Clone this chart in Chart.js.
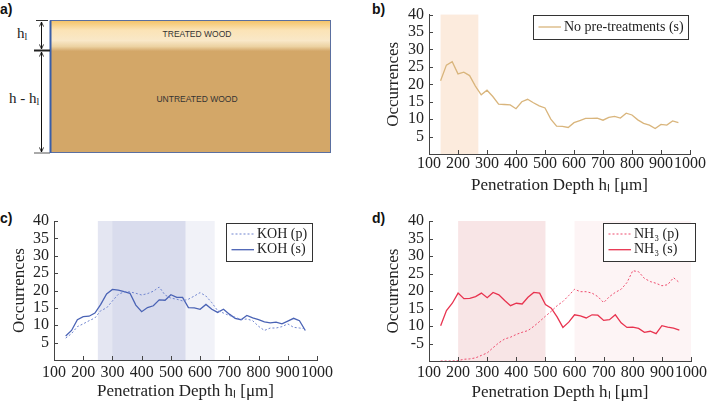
<!DOCTYPE html>
<html>
<head>
<meta charset="utf-8">
<script src="https://cdn.jsdelivr.net/npm/chart.js@4.4.0/dist/chart.umd.min.js"></script>
<style>
  body { margin: 0; background: #fff; width: 709px; height: 403px; position: relative; overflow: hidden; }
  .panel { position: absolute; }
  .tag { position: absolute; font: bold 14px "Liberation Sans", Arial, sans-serif; color: #111; line-height: 14px; }
</style>
</head>
<body>

<div class="tag" style="left:0;top:2px">a)</div>
<div class="tag" style="left:372px;top:2px">b)</div>
<div class="tag" style="left:0;top:211px">c)</div>
<div class="tag" style="left:372px;top:211px">d)</div>

<!-- a) schematic -->
<svg class="panel" style="left:0;top:0" width="355" height="170">
  <defs>
    <linearGradient id="treated" x1="0" y1="0" x2="0" y2="1">
      <stop offset="0" stop-color="#f6c46a"/>
      <stop offset="0.3" stop-color="#fbe3b6"/>
      <stop offset="0.65" stop-color="#f9e8c8"/>
      <stop offset="0.85" stop-color="#ecd2a2"/>
      <stop offset="1" stop-color="#d4a86a"/>
    </linearGradient>
    <marker id="arr" viewBox="0 0 6 6" refX="5.5" refY="3" markerWidth="5" markerHeight="5" orient="auto-start-reverse">
      <path d="M0,0.5 L5.5,3 L0,5.5" fill="none" stroke="#111" stroke-width="1"/>
    </marker>
  </defs>
  <rect x="50" y="21" width="281" height="132" fill="#d3a768"/>
  <rect x="50" y="21" width="281" height="30" fill="url(#treated)"/>
  <rect x="50.5" y="20.5" width="280" height="132" fill="none" stroke="#5a6fa0" stroke-width="1"/>
  <line x1="50.5" y1="20.5" x2="50.5" y2="153" stroke="#3a5fa8" stroke-width="2"/>
  <line x1="41.5" y1="22" x2="41.5" y2="49" stroke="#111" marker-start="url(#arr)" marker-end="url(#arr)"/>
  <line x1="41.5" y1="52" x2="41.5" y2="152" stroke="#111" marker-start="url(#arr)" marker-end="url(#arr)"/>
  <line x1="36" y1="20.5" x2="48" y2="20.5" stroke="#333"/>
  <line x1="34" y1="50.5" x2="50" y2="50.5" stroke="#222" stroke-width="2"/>
  <line x1="34" y1="153" x2="50" y2="153" stroke="#555"/>
  <text x="17" y="38" font-family="Liberation Serif" font-size="15" fill="#222">h<tspan font-size="10" dy="2">l</tspan></text>
  <text x="9" y="103" font-family="Liberation Serif" font-size="15" fill="#222">h - h<tspan font-size="10" dy="2">l</tspan></text>
  <text x="197" y="37" text-anchor="middle" font-family="Liberation Sans" font-size="8.5" fill="#333">TREATED WOOD</text>
  <text x="197" y="102" text-anchor="middle" font-family="Liberation Sans" font-size="8.5" fill="#333">UNTREATED WOOD</text>
</svg>

<canvas id="chartB" class="panel" style="left:360px;top:0" width="349" height="200"></canvas>
<canvas id="chartC" class="panel" style="left:0;top:200px" width="355" height="203"></canvas>
<canvas id="chartD" class="panel" style="left:355px;top:200px" width="354" height="203"></canvas>

<script>
// penetration depth bins (µm)
const depth = [140, 160, 180, 200, 220, 240, 260, 280, 300, 320,
               340, 360, 380, 400, 420, 440, 460, 480, 500, 520,
               540, 560, 580, 600, 620, 640, 660, 680, 700, 720,
               740, 760, 780, 800, 820, 840, 860, 880, 900, 920,
               940, 960];

const noPretreat = [21, 25.5, 26.5, 23, 23.5, 22.5, 19.5, 17, 18.3, 16.5,
                    14.3, 14.2, 14.1, 13, 15, 15.7, 14.7, 13.8, 13.2, 10,
                    8, 7.9, 7.6, 9, 9.6, 10.2, 10.2, 10.3, 9.7, 10.5,
                    10.8, 10.3, 11.7, 11.2, 9.8, 8.8, 8.3, 7.3, 8.5, 8.3,
                    9.5, 9];

const kohP = [6.3, 7.6, 9.6, 10.4, 11.3, 12.1, 14.2, 15, 17, 18.9,
              19.6, 19.6, 19.2, 18.7, 19.1, 19.8, 21, 18.7, 17.8, 17.5,
              17, 17.5, 18.4, 19.4, 18.4, 16.5, 14.2, 13.5, 12.8, 12.3,
              11.6, 11.8, 11.3, 9.7, 8.5, 9.2, 9.2, 9.6, 10.4, 9.4,
              9.2, 9];

const kohS = [6.9, 8.5, 11.6, 12.5, 12.6, 13.5, 16, 19, 20.3, 20.1,
              19.7, 19.2, 15.8, 13.9, 15.1, 15.6, 17.3, 17.2, 18.8, 18,
              18, 15.1, 15, 14.6, 16, 14.6, 13.7, 14.6, 13.2, 12,
              11.6, 12.8, 12.1, 11.6, 11, 10.7, 10.9, 10.4, 11.2, 12,
              11.3, 8.5];

const nh3P = [0, 0, 0, 0.1, 0.5, 0.6, 0.9, 1.6, 2.3, 3.8,
              5.2, 6.3, 6.8, 7.6, 8.2, 8.7, 9.9, 11.3, 12.8, 14.2,
              15.8, 17, 18.7, 20.5, 19.8, 19.8, 19.4, 18.4, 16.7, 18.4,
              19.6, 20.5, 22.4, 25.8, 25.5, 23.6, 22.7, 22.2, 21.5, 21.8,
              23.8, 22.4];

const nh3S = [10.1, 14.4, 16.5, 19.4, 17.8, 17.9, 18.4, 19.4, 18.1, 19.6,
              18.9, 17.3, 15.8, 16.5, 16.3, 18.2, 19.6, 19.4, 16.1, 15.1,
              12.6, 9.6, 11.1, 13.2, 12.9, 12.3, 13.2, 13.1, 11.6, 11.8,
              13.2, 10.9, 9.6, 9.7, 9.3, 8.2, 8.5, 7.8, 10.1, 9.7,
              9.4, 8.8];

// shaded depth ranges
const bandsB = [[140, 270]];
const bandsC = [[250, 550], [300, 650]];
const bandsD = [[200, 500], [600, 1000]];

// tick labels (x ticks at 100..1000, y ticks at 0, 5, ..., 40)
const xLabels = ['100', '200', '300', '400', '500', '600', '700', '800', '900', '1000'];
const yLabels = ['', '5', '10', '15', '20', '25', '30', '35', '40'];
const yLabelsD = ['', '-5', '10', '15', '20', '25', '30', '35', '40'];

const serif = '"Liberation Serif", "Times New Roman", serif';
Chart.defaults.font.family = serif;
Chart.defaults.color = '#222';

const bandPlugin = {
  id: 'bands',
  beforeDatasetsDraw(chart, args, opts) {
    const { ctx, chartArea, scales: { x, y } } = chart;
    opts.ranges.forEach((r, i) => {
      const x0 = x.getPixelForValue(r[0]);
      const x1 = x.getPixelForValue(r[1]);
      const top = y.getPixelForValue(40);
      ctx.save();
      ctx.fillStyle = opts.colors[i];
      ctx.fillRect(x0, top, x1 - x0, chartArea.bottom - top);
      ctx.restore();
    });
  }
};

// small tick marks pointing into the plot
const innerTicks = {
  id: 'innerTicks',
  afterDatasetsDraw(chart) {
    const { ctx, chartArea: a, scales: { x, y } } = chart;
    ctx.save();
    ctx.strokeStyle = '#444';
    ctx.lineWidth = 1;
    ctx.beginPath();
    x.ticks.forEach(t => {
      const p = Math.round(x.getPixelForValue(t.value)) + 0.5;
      ctx.moveTo(p, a.bottom);
      ctx.lineTo(p, a.bottom - 4);
    });
    y.ticks.forEach(t => {
      if (t.value <= 0) return;
      const p = Math.round(y.getPixelForValue(t.value)) + 0.5;
      ctx.moveTo(a.left, p);
      ctx.lineTo(a.left + 4, p);
    });
    ctx.stroke();
    ctx.restore();
  }
};

// legend with a framed box
const boxLegend = {
  id: 'boxLegend',
  afterDraw(chart, args, o) {
    const ctx = chart.ctx;
    ctx.save();
    ctx.fillStyle = '#fff';
    ctx.fillRect(o.x, o.y, o.w, o.h);
    ctx.strokeStyle = '#333';
    ctx.lineWidth = 1;
    ctx.strokeRect(o.x + 0.5, o.y + 0.5, o.w, o.h);
    ctx.font = '14px ' + serif;
    ctx.textBaseline = 'middle';
    chart.data.datasets.forEach((ds, i) => {
      const yy = o.y + o.first + i * o.step;
      ctx.strokeStyle = ds.borderColor;
      ctx.lineWidth = ds.borderWidth;
      ctx.setLineDash(ds.borderDash || []);
      ctx.beginPath();
      ctx.moveTo(o.x + 5.5, yy);
      ctx.lineTo(o.x + 28, yy);
      ctx.stroke();
      ctx.setLineDash([]);
      ctx.fillStyle = '#222';
      ctx.fillText(ds.label, o.x + 31, yy);
    });
    ctx.restore();
  }
};

function series(vals) {
  return depth.map((d, i) => ({ x: d, y: vals[i] }));
}

function line(label, vals, color, dashed) {
  return {
    label: label,
    data: series(vals),
    borderColor: color,
    borderWidth: dashed ? 1 : 1.3,
    borderDash: dashed ? [2, 2] : [],
    pointRadius: 0,
    tension: 0,
    fill: false
  };
}

function makePanel(id, datasets, p) {
  return new Chart(document.getElementById(id), {
    type: 'line',
    data: { datasets: datasets },
    options: {
      responsive: false,
      animation: false,
      layout: { padding: { top: p.top, right: p.right, left: 0, bottom: 0 } },
      plugins: {
        legend: { display: false },
        tooltip: { enabled: false },
        bands: { ranges: p.bands, colors: p.bandColors },
        boxLegend: p.legend
      },
      scales: {
        x: {
          type: 'linear',
          min: 100,
          max: 1000,
          grid: { display: false, drawTicks: false },
          border: { color: '#444', width: 1 },
          ticks: {
            stepSize: 100, autoSkip: false, maxRotation: 0, padding: p.xPad,
            font: { size: 16 }, callback: (v, i) => xLabels[i]
          },
          title: {
            display: true,
            text: 'Penetration Depth hₗ [μm]',
            font: { size: 17, lineHeight: 1.2 },
            padding: { top: 0, bottom: p.xTitlePad }
          },
          afterFit: s => { s.height = p.h - p.bottom; }
        },
        y: {
          min: 0,
          max: 40,
          grid: { display: false, drawTicks: false },
          border: { color: '#444', width: 1 },
          ticks: {
            stepSize: 5, autoSkip: false, padding: 5,
            font: { size: 16 }, callback: (v, i) => p.yLabels[i]
          },
          title: {
            display: true,
            text: 'Occurrences',
            font: { size: 17, lineHeight: 1.2 },
            padding: { top: p.yTitlePad, bottom: 0 }
          },
          afterFit: s => { s.width = p.left; }
        }
      }
    },
    plugins: [bandPlugin, innerTicks, boxLegend]
  });
}

makePanel('chartB', [
  line('No pre-treatments (s)', noPretreat, '#d9b57c', false)
], {
  h: 200, left: 69, top: 14, right: 19, bottom: 154,
  xPad: 0.5, xTitlePad: 4, yTitlePad: 23, yLabels: yLabels,
  bands: bandsB, bandColors: ['rgba(248, 205, 170, 0.4)'],
  legend: { x: 173, y: 15, w: 155, h: 24, first: 12, step: 0 }
});

makePanel('chartC', [
  line('KOH (p)', kohP, '#6f84cf', true),
  line('KOH (s)', kohS, '#4a63b5', false)
], {
  h: 203, left: 54, top: 21, right: 38, bottom: 160,
  xPad: 3, xTitlePad: 1, yTitlePad: 9, yLabels: yLabels,
  bands: bandsC, bandColors: ['rgba(120, 130, 190, 0.2)', 'rgba(120, 130, 190, 0.1)'],
  legend: { x: 226, y: 23, w: 86, h: 38, first: 11, step: 15.7 }
});

makePanel('chartD', [
  line('NH₃ (p)', nh3P, '#ee4a6c', true),
  line('NH₃ (s)', nh3S, '#e8334f', false)
], {
  h: 203, left: 74, top: 21, right: 17, bottom: 161,
  xPad: 2, xTitlePad: 0, yTitlePad: 28, yLabels: yLabelsD,
  bands: bandsD, bandColors: ['rgba(210, 80, 90, 0.15)', 'rgba(230, 100, 110, 0.07)'],
  legend: { x: 248, y: 23, w: 92, h: 38, first: 11, step: 15.7 }
});
</script>
</body>
</html>
